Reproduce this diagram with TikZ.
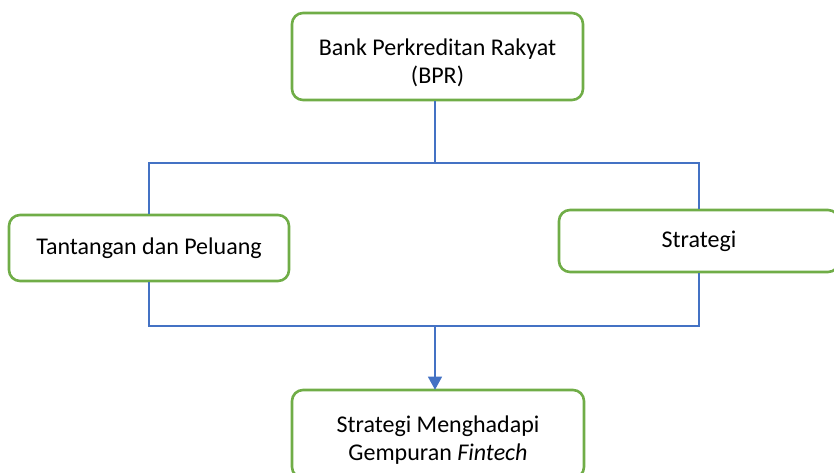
\documentclass[tikz,border=0pt]{standalone}
\usepackage{fontspec}
\setmainfont{Carlito}
\usetikzlibrary{arrows.meta}
\definecolor{kotakhijau}{HTML}{70AD47}
\definecolor{garisbiru}{HTML}{4472C4}
\newcommand{\ganjal}{\rule{0pt}{29pt}}
\tikzset{
	kotak/.style={draw=kotakhijau, line width=2.6pt, rounded corners=11pt, fill=white, align=center, inner sep=0pt},
	garis/.style={draw=garisbiru, line width=1.2pt},
}

\begin{document}
\begin{tikzpicture}[x=1pt, y=-1pt, font=\fontsize{24}{28}\selectfont]
			%%%%% START %%%%%
			
			\useasboundingbox (0, 0) rectangle (834, 473);
			\clip (0, 0) rectangle (834, 473);
			
			\node[kotak, minimum width=291pt, minimum height=87pt] (bpr) at (437.5, 56.5) {\ganjal Bank Perkreditan Rakyat\\(BPR)};
			\node[kotak, minimum width=280pt, minimum height=66pt] (tantangan) at (149, 248) {Tantangan dan Peluang};
			\node[kotak, minimum width=280pt, minimum height=62pt] (strategi) at (699, 241) {Strategi};
			\node[kotak, minimum width=292pt, minimum height=88pt] (hadapi) at (438, 434) {\ganjal Strategi Menghadapi\\Gempuran \textit{Fintech}};
			
			\coordinate (atas) at (435, 163);
			\coordinate (bawah) at (435, 326);
			
			\draw[garis] (bpr.south -| atas) -- (atas);
			\draw[garis] (tantangan.north) |- (atas) -| (strategi.north);
			\draw[garis] (tantangan.south) |- (bawah) -| (strategi.south);
			\draw[garis, -{Triangle[width=14pt, length=13pt]}, shorten >=-1pt] (bawah) -- (hadapi.north -| bawah);
			
			%%%%% END %%%%%
\end{tikzpicture}
\end{document}
